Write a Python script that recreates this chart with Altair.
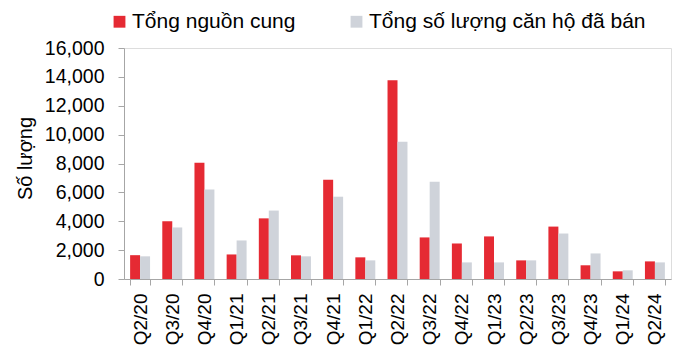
import altair as alt
import pandas as pd

# Quarterly supply vs. units sold
quarters = ["Q2/20", "Q3/20", "Q4/20", "Q1/21", "Q2/21", "Q3/21", "Q4/21", "Q1/22",
            "Q2/22", "Q3/22", "Q4/22", "Q1/23", "Q2/23", "Q3/23", "Q4/23", "Q1/24", "Q2/24"]
supply = [1650, 4000, 8050, 1700, 4200, 1640, 6880, 1500,
          13770, 2880, 2460, 2950, 1290, 3630, 950, 530, 1220]
sold = [1570, 3570, 6200, 2670, 4740, 1570, 5700, 1290,
        9500, 6740, 1150, 1150, 1290, 3150, 1770, 600, 1150]

series_names = ["Tổng nguồn cung", "Tổng số lượng căn hộ đã bán"]
series_colors = ["#e52a33", "#cfd3da"]

rows = []
for q, a, b in zip(quarters, supply, sold):
    rows.append({"quarter": q, "series": series_names[0], "value": a})
    rows.append({"quarter": q, "series": series_names[1], "value": b})
df = pd.DataFrame(rows)

FONT = "Liberation Sans"
AXIS_GREY = "#a6a6a6"

chart = alt.Chart(df).mark_bar().encode(
    x=alt.X(
        "quarter:N",
        sort=quarters,
        scale=alt.Scale(paddingInner=0.38, paddingOuter=0.19),
        axis=alt.Axis(
            title=None,
            labelAngle=270,
            labelFontSize=19,
            labelPadding=8,
            tickBand="extent",
            tickSize=6,
            tickColor=AXIS_GREY,
            domainColor=AXIS_GREY,
            labelColor="#000000",
            labelFont=FONT,
        ),
    ),
    xOffset=alt.XOffset("series:N", sort=series_names,
                        scale=alt.Scale(paddingInner=0, paddingOuter=0)),
    y=alt.Y(
        "value:Q",
        scale=alt.Scale(domain=[0, 16000], nice=False),
        axis=alt.Axis(
            title="Số lượng",
            values=list(range(0, 16001, 2000)),
            format=",.0f",
            grid=False,
            labelFontSize=19.5,
            labelPadding=14,
            labelFont=FONT,
            labelColor="#000000",
            tickSize=6,
            tickColor=AXIS_GREY,
            domainColor=AXIS_GREY,
            titleFont=FONT,
            titleFontSize=20,
            titleFontWeight="normal",
            titleColor="#000000",
            titleAngle=270,
            titleX=-99,
            titleY=110,
            titleAlign="center",
            titleBaseline="middle",
        ),
    ),
    color=alt.Color(
        "series:N",
        scale=alt.Scale(domain=series_names, range=series_colors),
        legend=alt.Legend(
            title=None,
            orient="none",
            direction="horizontal",
            legendX=-15,
            legendY=-37,
            symbolType="square",
            symbolSize=140,
            symbolStrokeWidth=0,
            labelFont=FONT,
            labelFontSize=21,
            labelColor="#000000",
            labelLimit=0,
            labelOffset=2,
            columnPadding=50,
            padding=0,
        ),
    ),
).properties(
    width=547,
    height=231,
    autosize=alt.AutoSizeParams(type="none"),
    padding={"left": 124, "top": 48, "right": 22, "bottom": 77},
).configure_view(
    stroke=None
).configure(
    background="#ffffff"
)

chart.save("out.html", embed_options={"renderer": "svg", "actions": False})
